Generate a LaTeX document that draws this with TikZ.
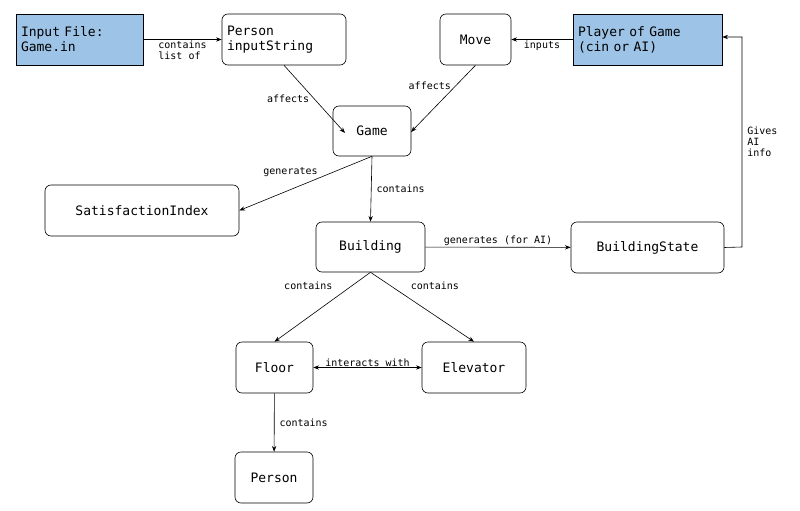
\documentclass[tikz,border=0pt]{standalone}
\usepackage{fontspec}
\setmainfont{DejaVu Sans Mono}
\usetikzlibrary{arrows.meta,positioning}
\definecolor{srcblue}{RGB}{157,195,230}
\begin{document}
\begin{tikzpicture}[x=1pt, y=-1pt, >=Stealth, line width=0.6pt,
    box/.style={draw, rounded corners=6pt, align=left, font=\fontsize{13}{15}\selectfont, inner sep=4pt},
    src/.style={draw, fill=srcblue, align=left, font=\fontsize{13}{15}\selectfont, inner sep=4pt},
    lbl/.style={font=\fontsize{10}{11}\selectfont, align=left, inner sep=1pt}]

  \useasboundingbox (0,0) rectangle (800,511);

  % Top row
  \node[src, minimum width=127pt, minimum height=51pt, text width=117pt] (input) at (79.5,39.5) {Input File:\\Game.in};
  \node[box, minimum width=124pt, minimum height=51pt, text width=114pt] (pstr) at (284,39.5) {Person\\inputString};
  \node[box, minimum width=71pt, minimum height=51pt, align=center] (move) at (475.5,39.5) {Move};
  \node[src, minimum width=149pt, minimum height=51pt, text width=139pt] (player) at (647.5,39.5) {Player of Game\\(cin or AI)};

  % Middle
  \node[box, minimum width=78pt, minimum height=50pt, align=center] (game) at (372,131) {Game};
  \node[box, minimum width=194pt, minimum height=51pt, align=center] (sat) at (142,210.5) {SatisfactionIndex};
  \node[box, minimum width=109pt, minimum height=50pt, align=center] (bldg) at (370.5,247) {Building};
  \node[box, minimum width=153pt, minimum height=51pt, align=center] (bstate) at (647.5,247.5) {BuildingState};

  % Bottom
  \node[box, minimum width=77pt, minimum height=51pt, align=center] (floor) at (274.5,367.5) {Floor};
  \node[box, minimum width=104pt, minimum height=51pt, align=center] (elev) at (474,367.5) {Elevator};
  \node[box, minimum width=78pt, minimum height=51pt, align=center] (person) at (274,477.5) {Person};

  \coordinate (gin) at (345,133);
  \coordinate (gin2) at (411,132);
  \coordinate (corner1) at (742,247);
  \coordinate (corner2) at (742,37);

  % Connectors
  \draw[->] (input) -- node[lbl, below] {contains\\list of} (pstr);
  \draw[->] (player) -- node[lbl, below] {inputs} (move);
  \draw[->] (pstr.south) -- node[lbl, pos=0.5, left=4pt] {affects} (gin);
  \draw[->] (move.south) -- node[lbl, pos=0.3, left=4pt] {affects} (gin2);
  \draw[->] (game.south) -- node[lbl, above left, pos=0.4] {generates} (sat.east);
  \draw[->] (game.south) -- node[lbl, right=4pt] {contains} (bldg.north);
  \draw[->] (bldg) -- node[lbl, above] {generates (for AI)} (bstate);
  \draw[->] (bstate.east) -- (corner1) -- node[lbl, right=4pt] {Gives\\AI\\info} (corner2) -- (player.east |- corner2);
  \draw[->] (bldg.south) -- node[lbl, above left=2pt and 8pt, pos=0.3] {contains} (floor.north);
  \draw[->] (bldg.south) -- node[lbl, above right=2pt and 8pt, pos=0.3] {contains} (elev.north);
  \draw[<->] (floor) -- node[lbl, above] {interacts with} (elev);
  \draw[->] (floor) -- node[lbl, right=4pt] {contains} (person);

\end{tikzpicture}
\end{document}
